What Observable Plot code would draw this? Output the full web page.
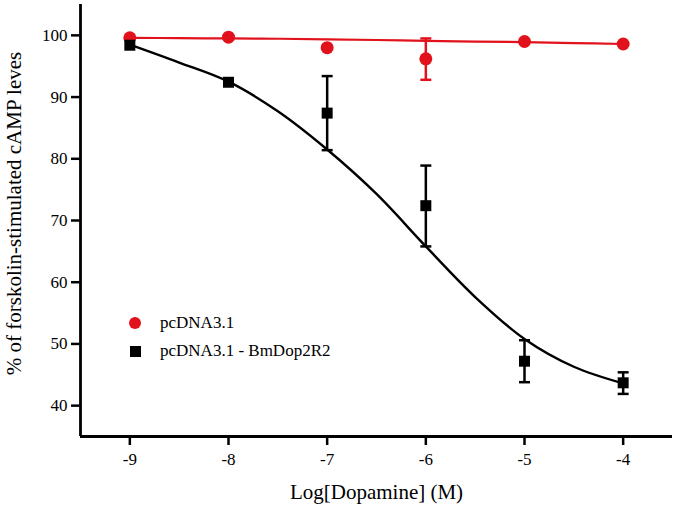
<!DOCTYPE html>
<html>
<head>
<meta charset="utf-8">
<script src="https://cdn.jsdelivr.net/npm/d3@7"></script>
<script src="https://cdn.jsdelivr.net/npm/@observablehq/plot@0.6"></script>
<style>
  html, body { margin: 0; padding: 0; background: #fff; }
  #wrap { position: relative; width: 675px; height: 508px; font-family: "Liberation Serif", "Times New Roman", serif; }
  .leg { position: absolute; left: 128px; height: 26px; display: flex; align-items: center; font-size: 17px; color: #000; white-space: nowrap; }
  .sym { width: 14px; height: 14px; display: flex; align-items: center; justify-content: center; margin-right: 18px; }
</style>
</head>
<body>
<div id="wrap"></div>
<script>
// ---- data ----
const xTicks = [-9, -8, -7, -6, -5, -4];
const yTicks = [40, 50, 60, 70, 80, 90, 100];
const xDomain = [-9.5, -3.5];
const yDomain = [35, 105];

const doses = [-9, -8, -7, -6, -5, -4];
const ctrlMean = [99.6, 99.7, 98.0, 96.2, 99.0, 98.6];
const ctrlLow  = [null, null, null, 92.8, null, null];
const ctrlHigh = [null, null, null, 99.5, null, null];
const recMean  = [98.4, 92.4, 87.4, 72.4, 47.2, 43.7];
const recLow   = [null, null, 81.4, 65.8, 43.8, 41.9];
const recHigh  = [null, null, 93.4, 78.9, 50.6, 45.4];

const fitX    = [-9, -8.5, -8, -7.5, -7, -6.5, -6, -5.5, -5, -4.5, -4];
const ctrlFit = [99.6, 99.55, 99.5, 99.45, 99.35, 99.25, 99.1, 99.0, 98.9, 98.75, 98.6];
const recFit  = [98.5, 95.6, 92.5, 87.7, 81.5, 74.3, 65.8, 57.6, 50.8, 46.3, 43.6];

const seriesNames = ["pcDNA3.1", "pcDNA3.1 - BmDop2R2"];
const xTitle = "Log[Dopamine] (M)";
const yTitle = "% of forskolin-stimulated cAMP leves";

const RED = "#e2121c";
const BLACK = "#000000";

// ---- tables ----
const ctrl = doses.map((x, i) => ({x, y: ctrlMean[i], lo: ctrlLow[i], hi: ctrlHigh[i]}));
const rec = doses.map((x, i) => ({x, y: recMean[i], lo: recLow[i], hi: recHigh[i]}));
const ctrlErr = ctrl.filter(d => d.lo != null);
const recErr = rec.filter(d => d.lo != null);
const ctrlCurve = fitX.map((x, i) => ({x, y: ctrlFit[i]}));
const recCurve = fitX.map((x, i) => ({x, y: recFit[i]}));

const cap = { draw(ctx, size) { const w = Math.sqrt(size / Math.PI); ctx.moveTo(-w, 0); ctx.lineTo(w, 0); } };

const chart = Plot.plot({
  width: 675,
  height: 508,
  marginLeft: 80,
  marginRight: 3,
  marginTop: 4,
  marginBottom: 72,
  style: { fontFamily: "Liberation Serif, Times New Roman, serif", fontSize: "17px", color: "#000", background: "#fff" },
  x: { domain: xDomain },
  y: { domain: yDomain },
  marks: [
    Plot.axisY({ ticks: yTicks, tickSize: 9, tickPadding: 4, fontSize: 17, strokeWidth: 2.5, label: null, tickFormat: d => String(d) }),
    Plot.axisX({ ticks: xTicks, tickSize: 9, tickPadding: 7, fontSize: 17, strokeWidth: 2.5, label: null, tickFormat: d => String(d) }),
    Plot.text([yTitle], { text: d => d, frameAnchor: "left", rotate: -90, dx: -66, dy: -7, fontSize: 21, textAnchor: "middle", lineAnchor: "middle", fill: BLACK }),
    Plot.axisX({ ticks: [], tickSize: 0, label: xTitle, labelAnchor: "center", labelOffset: 62, labelArrow: "none", fontSize: 21 }),
    Plot.ruleX([xDomain[0]], { stroke: BLACK, strokeWidth: 2.8 }),
    Plot.ruleY([yDomain[0]], { stroke: BLACK, strokeWidth: 2.8 }),
    // control (red)
    Plot.line(ctrlCurve, { x: "x", y: "y", stroke: RED, strokeWidth: 2.2, curve: "catmull-rom" }),
    Plot.ruleX(ctrlErr, { x: "x", y1: "lo", y2: "hi", stroke: RED, strokeWidth: 2.5 }),
    Plot.dot(ctrlErr, { x: "x", y: "lo", symbol: cap, r: 5.5, stroke: RED, strokeWidth: 2.5, fill: "none" }),
    Plot.dot(ctrlErr, { x: "x", y: "hi", symbol: cap, r: 5.5, stroke: RED, strokeWidth: 2.5, fill: "none" }),
    Plot.dot(ctrl, { x: "x", y: "y", r: 6.5, fill: RED, stroke: "none" }),
    // receptor (black)
    Plot.line(recCurve, { x: "x", y: "y", stroke: BLACK, strokeWidth: 2.4, curve: "catmull-rom" }),
    Plot.ruleX(recErr, { x: "x", y1: "lo", y2: "hi", stroke: BLACK, strokeWidth: 2.5 }),
    Plot.dot(recErr, { x: "x", y: "lo", symbol: cap, r: 5.5, stroke: BLACK, strokeWidth: 2.5, fill: "none" }),
    Plot.dot(recErr, { x: "x", y: "hi", symbol: cap, r: 5.5, stroke: BLACK, strokeWidth: 2.5, fill: "none" }),
    Plot.dot(rec, { x: "x", y: "y", r: 6.2, symbol: "square", fill: BLACK, stroke: "none" })
  ]
});

const wrap = document.getElementById("wrap");
wrap.appendChild(chart);

// legend (inside the plot area)
const legendTops = [310, 338];
const legendSymbols = [
  '<span style="display:block;width:12px;height:12px;border-radius:50%;background:' + RED + '"></span>',
  '<span style="display:block;width:11px;height:11px;background:' + BLACK + '"></span>'
];
seriesNames.forEach((name, i) => {
  const row = document.createElement("div");
  row.className = "leg";
  row.style.top = legendTops[i] + "px";
  row.innerHTML = '<span class="sym">' + legendSymbols[i] + '</span><span>' + name + '</span>';
  wrap.appendChild(row);
});
</script>
</body>
</html>
